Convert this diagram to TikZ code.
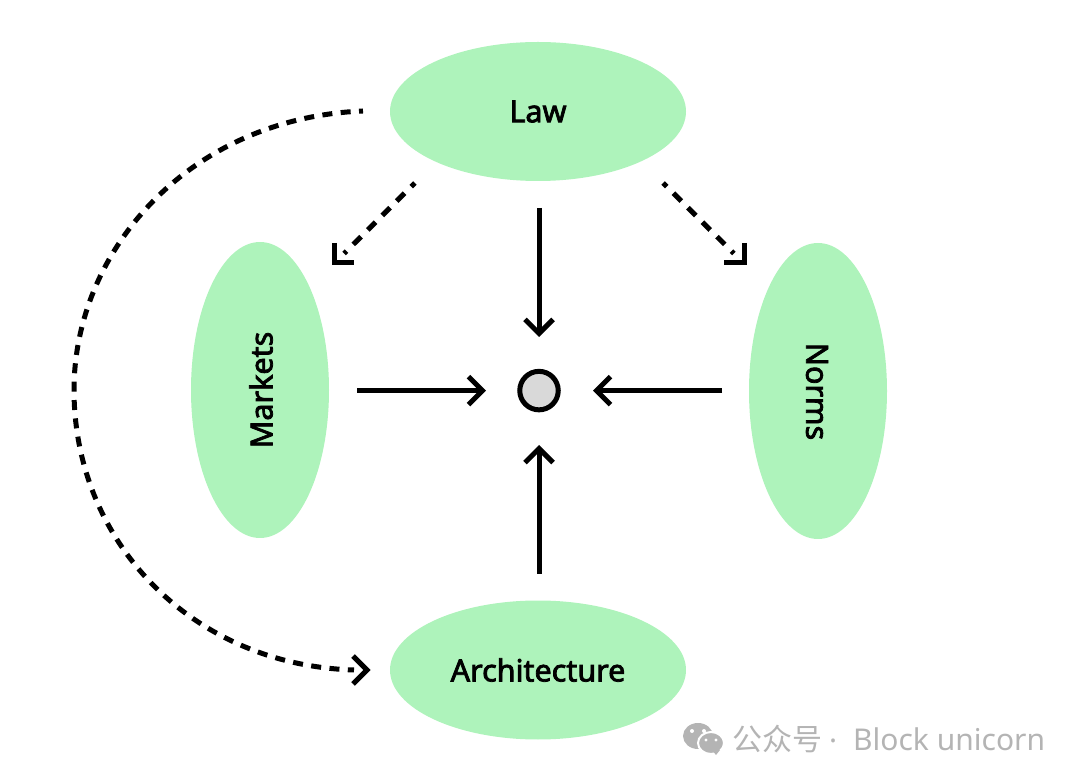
\documentclass[tikz,border=0pt]{standalone}
\usepackage{fontspec}
\setmainfont{Noto Sans}
\newfontfamily\cjk{Noto Sans CJK SC}
\newfontfamily\heavy[FakeBold=2.6]{Noto Sans}
\usetikzlibrary{arrows.meta,shapes.geometric}
\definecolor{leaf}{HTML}{AEF3BB}
\definecolor{hubgray}{HTML}{D9D9D9}
\definecolor{wmgray}{HTML}{B4B4B4}
\tikzset{
 blob/.style={ellipse,fill=leaf,draw=none,inner sep=0pt,font=\fontsize{30.5}{32}\selectfont\heavy},
 solidarrow/.style={line width=5pt,-{Straight Barb[length=14pt,width=28pt,line width=5pt]}},
 dashline/.style={line width=5pt,dash pattern=on 11pt off 9.5pt,dash phase=6pt},
 barb/.style={line width=5pt,miter limit=10},
 curvearrow/.style={line width=5pt,dash pattern=on 10pt off 8.4pt,dash phase=6pt},
}
\begin{document}
\begin{tikzpicture}[x=1pt,y=-1pt]
\useasboundingbox (0,0) rectangle (1080,783);
\node[blob,minimum width=296pt,minimum height=139pt] (law) at (538,111.5) {Law};
\node[blob,minimum width=296pt,minimum height=139pt] (arch) at (538,670) {Architecture};
\node[blob,minimum width=138pt,minimum height=296pt] (mk) at (260,390) {};
\node[blob,minimum width=138pt,minimum height=296pt] (nm) at (818,391) {};
\node[font=\fontsize{30.5}{32}\selectfont\heavy,rotate=90] (mktx) at (261,390) {Markets};
\node[font=\fontsize{30.5}{32}\selectfont\heavy,rotate=-90] (nmtx) at (817,391.5) {Norms};
\node[circle,draw=black,fill=hubgray,line width=5pt,minimum size=38.5pt,inner sep=0pt] (hub) at (539,390.6) {};
\coordinate (a1) at (539,208); \coordinate (a2) at (539,337);
\coordinate (b1) at (357,390.6); \coordinate (b2) at (486,390.6);
\coordinate (c1) at (722,390.6); \coordinate (c2) at (593,390.6);
\coordinate (d1) at (539,574); \coordinate (d2) at (539,445);
\draw[solidarrow] (a1)--(a2);
\draw[solidarrow] (b1)--(b2);
\draw[solidarrow] (c1)--(c2);
\draw[solidarrow] (d1)--(d2);
\coordinate (e1) at (414.8,183); \coordinate (e2) at (344.2,253.5);
\coordinate (f1) at (663.2,183); \coordinate (f2) at (733.8,253.5);
\draw[dashline] (e1)--(e2);
\draw[dashline] (f1)--(f2);
\draw[barb] (334.5,243)--(334.5,263)--(354,263);
\draw[barb] (744,243)--(744,263)--(724,263);
\coordinate (g1) at (363,111); \coordinate (g2) at (354,670);
\draw[curvearrow] (g1) .. controls (190,118) and (74,250) .. (74,390) .. controls (74,540) and (190,665) .. (g2);
\draw[line width=5pt] (353,656)--(367,670)--(353,684);
\node[font=\fontsize{30}{30}\selectfont\cjk,text=wmgray,anchor=west,inner sep=0pt] (wm) at (732,739) {公众号};
\node[font=\fontsize{30}{30}\selectfont,text=wmgray,anchor=west,inner sep=0pt] (wm2) at (829,745) {·};
\node[font=\fontsize{30}{30}\selectfont,text=wmgray,anchor=west,inner sep=0pt] (wm3) at (853,739) {Block unicorn};
\fill[wmgray] (698,736) ellipse (15pt and 13pt);
\fill[wmgray] (696,748) -- (700,742) -- (704,747) -- cycle;
\draw[white,line width=2pt,fill=wmgray] (711,743) ellipse (13pt and 11pt);
\fill[wmgray] (716,755) -- (712,750) -- (720,750) -- cycle;
\fill[white] (692,731) circle (2pt) (704,731) circle (2pt) (706,740) circle (1.6pt) (716,740) circle (1.6pt);
\end{tikzpicture}
\end{document}
